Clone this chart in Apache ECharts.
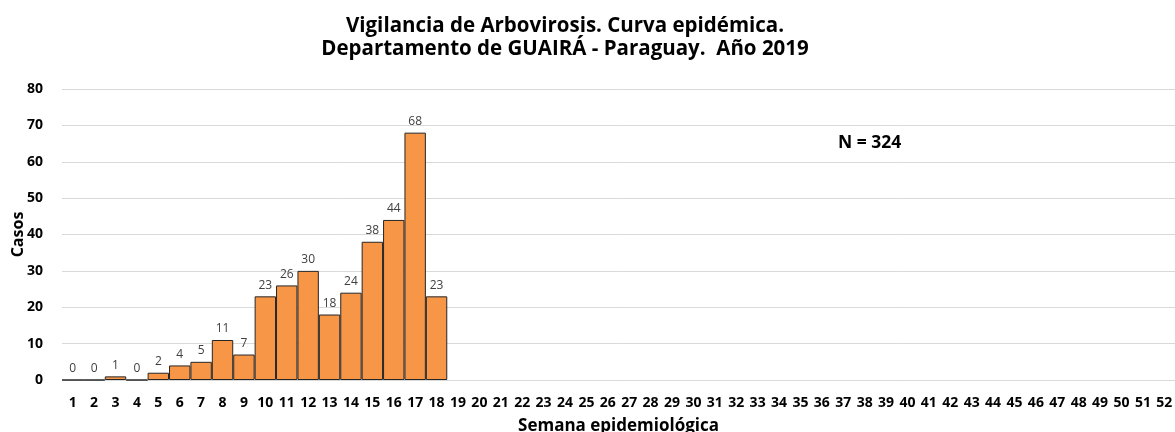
<!DOCTYPE html>
<html><head><meta charset="utf-8">
<script src="https://cdn.jsdelivr.net/npm/echarts@6/dist/echarts.min.js"></script>
<style>html,body{margin:0;padding:0;background:#fff}#c{width:1175px;height:432px}</style>
</head><body><div id="c"></div>
<script>
var weeks = [];
for (var i = 1; i <= 52; i++) weeks.push(String(i));
var casos = [0,0,1,0,2,4,5,11,7,23,26,30,18,24,38,44,68,23];
var titleLines = ['Vigilancia de Arbovirosis. Curva epidémica.', 'Departamento de GUAIRÁ - Paraguay.  Año 2019'];
var totalText = 'N = 324';

var chart = echarts.init(document.getElementById('c'));
chart.setOption({
  animation: false,
  title: {
    text: titleLines.join('\n'),
    left: 560, textAlign: 'center', top: 10,
    textStyle: {fontFamily: 'Open Sans', fontWeight: 'bold', fontSize: 20.5, color: '#000', lineHeight: 23}
  },
  grid: {left: 62, right: 0, top: 89, bottom: 52, outerBoundsMode: 'none', containLabel: false},
  xAxis: {
    type: 'category', data: weeks,
    name: 'Semana epidemiológica', nameLocation: 'middle', nameGap: 38, nameMoveOverlap: false,
    nameTextStyle: {fontFamily: 'Open Sans', fontWeight: 'bold', fontSize: 17, color: '#000'},
    axisLine: {show: false}, axisTick: {show: false},
    axisLabel: {interval: 0, fontFamily: 'Open Sans', fontWeight: 'bold', fontSize: 14, color: '#000', margin: 16}
  },
  yAxis: {
    type: 'value', min: 0, max: 80, interval: 10,
    name: 'Casos', nameLocation: 'middle', nameGap: 36, nameRotate: 90, nameMoveOverlap: false,
    nameTextStyle: {fontFamily: 'Open Sans', fontWeight: 'bold', fontSize: 16, color: '#000'},
    axisLine: {show: false}, axisTick: {show: false},
    splitLine: {lineStyle: {color: '#d9d9d9', width: 1}},
    axisLabel: {fontFamily: 'Open Sans', fontWeight: 'bold', fontSize: 14, color: '#000', margin: 19}
  },
  series: [{
    type: 'bar', data: casos, barCategoryGap: '0%',
    itemStyle: {color: '#F79646', borderColor: '#262626', borderWidth: 1},
    label: {show: true, position: 'top', distance: 5, fontFamily: 'Open Sans', fontSize: 12, color: '#404040'}
  }],
  graphic: [{
    type: 'text', left: 838, top: 134,
    style: {text: totalText, fontFamily: 'Open Sans', fontWeight: 'bold', fontSize: 17.5, fill: '#000'}
  }]
});
</script></body></html>
